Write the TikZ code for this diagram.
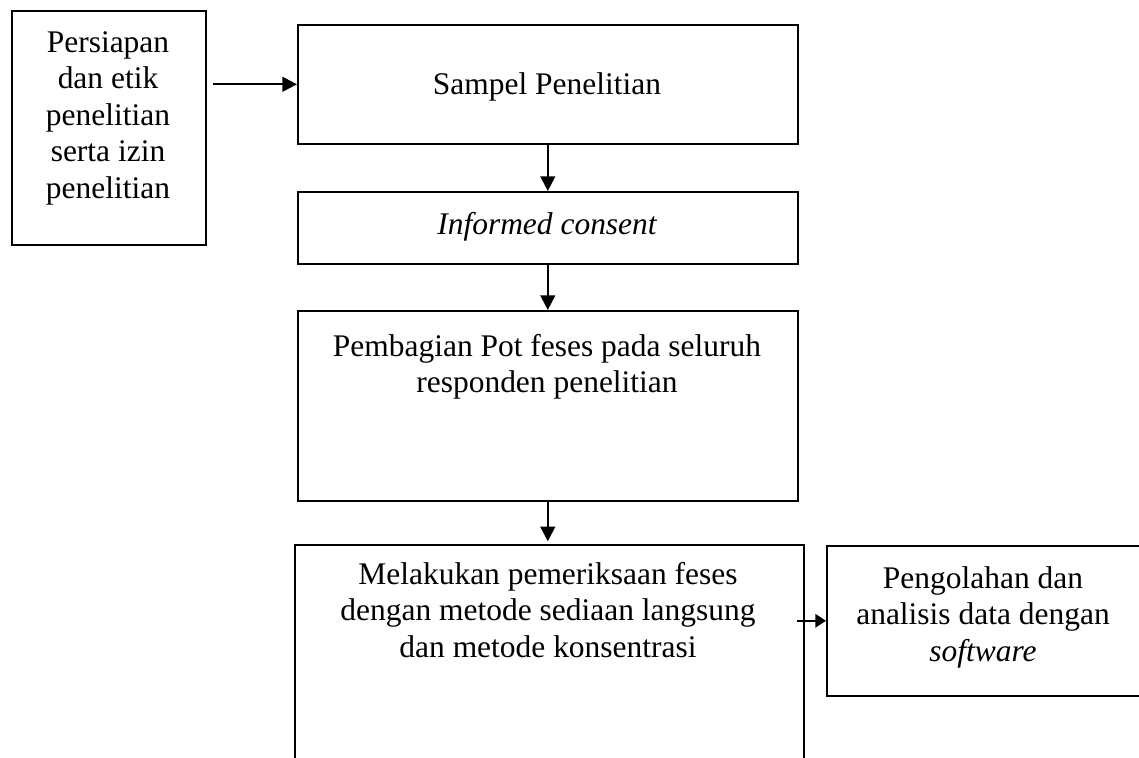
\documentclass[tikz,border=0pt]{standalone}
\usepackage{fontspec}
\setmainfont{Liberation Serif}
\usetikzlibrary{arrows.meta}
\begin{document}
\begin{tikzpicture}[x=0.75pt,y=-0.75pt,
  box/.style={draw=black,line width=1.2pt,rectangle,inner sep=0pt,anchor=north west},
  lbl/.style={inner sep=0pt,anchor=north,align=center,
    font=\fontsize{23.6pt}{27.4pt}\selectfont},
  arr/.style={line width=1.7pt,-{Triangle[length=11pt,width=11pt]}},
  arrs/.style={line width=1.7pt,-{Triangle[length=8pt,width=10pt]}}]
\useasboundingbox[fill=white] (0,0) rectangle (1139,757);
% boxes
\node[box,minimum width=194*0.75pt,minimum height=234*0.75pt] (b1) at (11,10) {};
\node[box,minimum width=500*0.75pt,minimum height=119*0.75pt] (b2) at (297,24) {};
\node[box,minimum width=500*0.75pt,minimum height=72*0.75pt] (b3) at (297,191) {};
\node[box,minimum width=500*0.75pt,minimum height=190*0.75pt] (b4) at (297,310) {};
\node[box,minimum width=509*0.75pt,minimum height=260*0.75pt] (b5) at (294,544) {};
\node[box,minimum width=340*0.75pt,minimum height=150*0.75pt] (b6) at (826,545) {};
% texts
\node[lbl] (t1) at (108,31) {Persiapan\\dan etik\\penelitian\\serta izin\\penelitian};
\node[lbl] (t2) at (547,72) {Sampel Penelitian};
\node[lbl] (t3) at (547,212) {\itshape Informed consent};
\node[lbl] (t4) at (547,334) {Pembagian Pot feses pada seluruh\\responden penelitian};
\node[lbl] (t5) at (548,562) {Melakukan pemeriksaan feses\\dengan metode sediaan langsung\\dan metode konsentrasi};
\node[lbl] (t6) at (983,566) {Pengolahan dan\\analisis data dengan\\\textit{software}};
% connectors
\draw[arr] ([xshift=4.5pt]b1.east |- b2.west) -- (b2.west);
\draw[arr] (b2.south) -- (b3.north);
\draw[arr] (b3.south) -- (b4.north);
\draw[arr] (b4.south) -- ([yshift=2pt]b4.south |- b5.north);
\draw[arrs] ([xshift=-6pt]b5.east |- b6.west) -- (b6.west);
\end{tikzpicture}
\end{document}
